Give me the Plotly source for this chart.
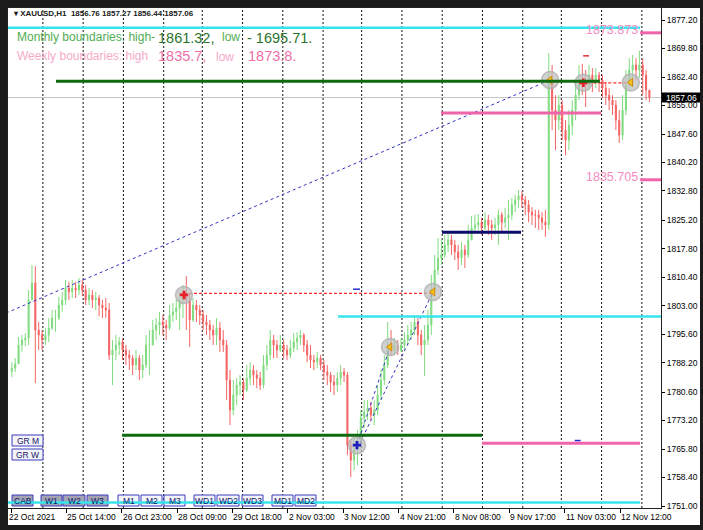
import plotly.graph_objects as go

# ---------------- data: XAUUSD H1 (drawn as 2-hour candles) ----------------
first_open = 1786.0
close = [
    1786.8, 1787.9, 1792.8, 1794.1, 1794.6, 1804.5, 1808.9, 1796.7, 1795.4, 1794.1,
    1795.4, 1797.2, 1799.8, 1799.8, 1803.2, 1804.5, 1807.6, 1806.6, 1807.6, 1807.1,
    1808.4, 1807.1, 1804.5, 1805.8, 1804.5, 1805.0, 1803.2, 1802.4, 1801.9, 1790.2,
    1791.5, 1792.8, 1793.6, 1791.5, 1790.2, 1789.4, 1787.6, 1789.4, 1786.3, 1787.6,
    1792.8, 1792.8, 1796.7, 1798.0, 1798.8, 1798.0, 1797.2, 1800.6, 1801.4, 1802.4,
    1804.5, 1805.8, 1804.5, 1799.3, 1803.2, 1801.9, 1800.6, 1798.8, 1798.0, 1796.7,
    1795.4, 1797.2, 1794.1, 1792.8, 1783.7, 1775.9, 1779.8, 1782.4, 1783.2, 1781.1,
    1784.2, 1786.3, 1785.0, 1784.2, 1782.4, 1787.6, 1790.2, 1794.1, 1792.8, 1791.5,
    1792.8, 1791.5, 1790.2, 1792.0, 1793.6, 1794.6, 1795.4, 1792.8, 1790.2, 1788.9,
    1788.4, 1789.4, 1787.6, 1785.8, 1785.0, 1783.2, 1782.4, 1784.2, 1785.8, 1785.0,
    1766.8, 1762.9, 1765.5, 1768.1, 1773.9, 1775.4, 1776.5, 1774.6, 1775.9, 1779.8,
    1783.7, 1787.6, 1792.8, 1791.5, 1792.8, 1791.5, 1792.8, 1794.1, 1795.4, 1796.7,
    1798.8, 1795.4, 1792.8, 1794.1, 1798.0, 1807.1, 1812.3, 1815.4, 1816.2, 1818.8,
    1820.1, 1818.8, 1817.0, 1815.4, 1817.5, 1816.2, 1820.1, 1823.2, 1824.0, 1824.7,
    1823.2, 1825.3, 1824.0, 1823.2, 1824.0, 1826.6, 1824.7, 1825.8, 1826.6, 1829.2,
    1830.5, 1831.5, 1830.5, 1829.2, 1827.3, 1826.6, 1826.6, 1825.8, 1824.7, 1824.0,
    1861.6, 1853.8, 1851.2, 1855.1, 1848.6, 1846.0, 1849.9, 1853.8, 1857.7, 1861.6,
    1861.1, 1860.3, 1862.9, 1861.6, 1862.9, 1861.6, 1859.5, 1857.7, 1856.4, 1855.1,
    1851.2, 1847.3, 1853.8, 1860.3, 1864.2, 1865.5, 1864.2, 1865.5, 1862.9, 1859.0,
    1857.06,
]
high = [
    1788.4, 1789.4, 1794.9, 1795.4, 1795.9, 1807.1, 1813.6, 1813.3, 1798.8, 1796.7,
    1797.2, 1799.8, 1801.9, 1801.9, 1805.3, 1806.6, 1809.7, 1809.2, 1809.7, 1809.2,
    1810.2, 1809.7, 1808.4, 1807.6, 1807.1, 1806.6, 1805.8, 1804.5, 1805.0, 1803.7,
    1794.1, 1795.4, 1794.9, 1794.6, 1792.8, 1791.5, 1790.2, 1791.5, 1790.2, 1790.2,
    1795.4, 1796.7, 1799.3, 1799.8, 1801.4, 1800.6, 1799.3, 1803.2, 1803.7, 1804.5,
    1806.6, 1808.4, 1810.7, 1806.3, 1805.0, 1804.5, 1803.2, 1801.9, 1800.6, 1799.3,
    1798.0, 1799.8, 1798.8, 1796.7, 1794.1, 1786.3, 1783.7, 1784.2, 1785.0, 1784.2,
    1787.6, 1788.4, 1787.6, 1786.3, 1785.8, 1790.2, 1792.8, 1796.7, 1795.4, 1794.1,
    1795.4, 1794.1, 1792.8, 1794.1, 1795.9, 1796.2, 1796.7, 1795.9, 1794.1, 1792.8,
    1790.2, 1791.0, 1790.2, 1788.9, 1787.6, 1785.8, 1785.0, 1785.8, 1787.6, 1786.8,
    1785.8, 1768.1, 1768.9, 1770.7, 1775.9, 1778.5, 1778.5, 1778.0, 1778.5, 1782.4,
    1786.3, 1790.2, 1798.8, 1796.7, 1794.6, 1794.1, 1794.6, 1796.2, 1798.0, 1798.8,
    1800.6, 1799.8, 1796.7, 1798.0, 1801.9, 1811.0, 1816.2, 1820.6, 1820.1, 1821.4,
    1821.9, 1821.4, 1820.1, 1818.8, 1819.6, 1818.8, 1824.0, 1826.3, 1826.6, 1826.8,
    1825.8, 1827.3, 1826.6, 1825.3, 1825.8, 1827.9, 1827.3, 1828.4, 1830.5, 1831.0,
    1831.8, 1833.1, 1832.8, 1831.5, 1830.5, 1828.6, 1827.9, 1827.9, 1827.3, 1827.9,
    1868.6, 1865.5, 1857.7, 1857.7, 1856.4, 1851.2, 1853.8, 1856.4, 1861.6, 1865.5,
    1865.8, 1864.2, 1865.5, 1864.7, 1864.7, 1863.7, 1862.9, 1861.1, 1859.5, 1857.7,
    1856.4, 1853.8, 1857.7, 1864.2, 1867.3, 1868.1, 1867.3, 1869.2, 1867.3, 1864.2,
    1859.0,
]
low = [
    1784.5, 1785.8, 1791.0, 1791.0, 1792.5, 1792.8, 1804.5, 1782.9, 1791.5, 1791.5,
    1792.8, 1793.6, 1796.7, 1796.2, 1799.3, 1801.4, 1803.2, 1804.5, 1805.0, 1805.0,
    1805.8, 1805.5, 1803.2, 1803.2, 1802.4, 1801.9, 1800.3, 1799.8, 1799.8, 1788.9,
    1782.4, 1788.9, 1790.2, 1788.9, 1787.6, 1786.3, 1785.0, 1786.3, 1783.7, 1784.2,
    1786.8, 1785.0, 1792.8, 1794.1, 1795.4, 1795.4, 1794.1, 1796.7, 1798.8, 1799.3,
    1796.7, 1799.8, 1796.7, 1792.3, 1798.8, 1798.8, 1798.0, 1796.7, 1795.4, 1794.1,
    1792.8, 1792.8, 1791.0, 1791.0, 1778.5, 1772.0, 1774.6, 1777.2, 1779.8, 1778.5,
    1780.6, 1782.4, 1782.4, 1781.6, 1781.1, 1781.6, 1786.3, 1788.9, 1789.4, 1789.4,
    1791.0, 1789.4, 1788.9, 1789.4, 1791.0, 1791.5, 1792.8, 1791.0, 1788.4, 1786.8,
    1786.3, 1786.8, 1786.3, 1783.7, 1782.4, 1780.6, 1779.8, 1780.6, 1782.4, 1783.2,
    1764.2, 1758.5, 1760.3, 1761.6, 1765.5, 1771.3, 1773.3, 1773.3, 1772.0, 1774.6,
    1778.5, 1782.4, 1786.8, 1790.2, 1790.2, 1790.2, 1791.0, 1791.5, 1792.8, 1794.1,
    1795.4, 1792.8, 1790.2, 1784.8, 1792.8, 1795.4, 1806.6, 1811.0, 1813.6, 1815.4,
    1817.0, 1816.2, 1814.9, 1812.3, 1813.6, 1812.8, 1815.4, 1820.1, 1822.2, 1822.7,
    1821.4, 1822.7, 1821.4, 1820.1, 1821.4, 1818.8, 1822.2, 1823.2, 1820.1, 1825.3,
    1827.3, 1828.4, 1828.4, 1826.6, 1824.7, 1824.0, 1823.2, 1822.7, 1822.7, 1820.9,
    1822.7, 1848.6, 1843.4, 1848.6, 1846.0, 1842.1, 1843.4, 1847.3, 1851.2, 1856.4,
    1857.7, 1854.6, 1859.0, 1858.5, 1859.5, 1858.5, 1857.0, 1855.1, 1853.8, 1852.5,
    1848.6, 1845.3, 1846.0, 1852.5, 1859.0, 1860.3, 1861.6, 1862.1, 1857.7, 1856.4,
    1855.9,
]

y_tick_values = [1751.0, 1758.4, 1765.8, 1773.2, 1780.6, 1788.2, 1795.6, 1803.0, 1810.4,
                 1817.8, 1825.2, 1832.8, 1840.2, 1847.6, 1855.0, 1862.4, 1869.8, 1877.2]
x_tick_bars = [0, 33, 66, 99, 132, 165, 198, 231, 264, 297, 330, 363]
x_tick_labels = ["22 Oct 2021", "25 Oct 14:00", "26 Oct 23:00", "28 Oct 09:00", "29 Oct 18:00",
                 "2 Nov 03:00", "3 Nov 12:00", "4 Nov 21:00", "8 Nov 08:00", "9 Nov 17:00",
                 "11 Nov 03:00", "12 Nov 12:00"]
day_separators = [19, 43, 67, 91, 114, 138, 162, 186, 209, 233, 257, 281, 305, 328, 352, 376]

# horizontal levels: price, from-bar, to-bar, kind
level_price = [1875.2, 1873.873, 1835.705, 1861.32, 1769.4, 1853.05, 1767.3, 1822.1, 1800.2, 1751.9]
level_from = [-3, 375, 375, 26.8, 66.2, 256.3, 280.7, 256.9, 194.9, -3]
level_to = [375, 392, 392, 351.0, 280.7, 351.7, 374.9, 304.0, 392, 374.9]
level_kind = ["cyan", "pink", "pink", "green", "green", "pink", "pink", "navy", "cyan", "cyan"]
level_text = ["", "1873.873", "1835.705", "", "", "", "", "", "", ""]

trend_bar = [-3.0, 321.3]
trend_price = [1801.1, 1861.62]
fib_a_bar = [206.2, 225.9]
fib_a_price = [1766.84, 1792.29]
fib_b_bar = [208.0, 251.5]
fib_b_price = [1767.36, 1806.57]
red_link1_bar = [103.1, 251.5]
red_link1_price = [1806.2, 1806.2]
red_link2_bar = [341.1, 369.4]
red_link2_price = [1860.9, 1860.9]

circ_bar = [103.1, 251.5, 225.9, 206.2, 321.3, 341.1, 369.4]
circ_price = [1805.8, 1806.6, 1792.3, 1766.8, 1861.6, 1860.9, 1861.0]
circ_kind = ["red", "arrow", "arrow", "blue", "arrow", "red", "arrow"]

tick_dash_bar0 = [203.9, 336.0, 341.0]
tick_dash_bar1 = [208.0, 339.5, 344.5]
tick_dash_price = [1807.3, 1768.0, 1867.9]
tick_dash_color = ["#2a2acc", "#2a2acc", "#e03030"]

# ---------------- geometry ----------------
W, H = 703, 530
L, R, T, B = 8, 661, 8, 508
X_RANGE = [-1.79, 387.4]
Y_RANGE = [1750.48, 1880.32]
FONT = "Liberation Sans"


def px(x):
    return (x - L) / (R - L)


def py(y):
    return (B - y) / (B - T)


def price_to_paper(p):
    return (p - Y_RANGE[0]) / (Y_RANGE[1] - Y_RANGE[0])


opens = [first_open] + close[:-1]
hi = [max(h, o, c) for h, o, c in zip(high, opens, close)]
lo = [min(l, o, c) for l, o, c in zip(low, opens, close)]
bars = [2 * i + 0.5 for i in range(len(close))]

fig = go.Figure()

fig.add_trace(go.Candlestick(
    x=bars, open=opens, high=hi, low=lo, close=close,
    increasing=dict(line=dict(color="#80dc80", width=1), fillcolor="#80dc80"),
    decreasing=dict(line=dict(color="#f46464", width=1), fillcolor="#f46464"),
    whiskerwidth=0, showlegend=False, hoverinfo="skip"))

# trend / link lines
fig.add_trace(go.Scatter(x=trend_bar, y=trend_price, mode="lines",
                         line=dict(color="#3434c4", width=1, dash="3px,3px"),
                         showlegend=False, hoverinfo="skip"))
for xs, ys in [(fib_a_bar, fib_a_price), (fib_b_bar, fib_b_price)]:
    fig.add_trace(go.Scatter(x=xs, y=ys, mode="lines",
                             line=dict(color="#3434c4", width=1, dash="3px,3px"),
                             showlegend=False, hoverinfo="skip"))
for xs, ys in [(red_link1_bar, red_link1_price), (red_link2_bar, red_link2_price)]:
    fig.add_trace(go.Scatter(x=xs, y=ys, mode="lines",
                             line=dict(color="#ff2a2a", width=1.3, dash="3px,2px"),
                             showlegend=False, hoverinfo="skip"))

# gray circles and inner symbols
fig.add_trace(go.Scatter(x=circ_bar, y=circ_price, mode="markers",
                         marker=dict(size=17, color="rgba(190,190,190,0.7)",
                                     line=dict(color="rgba(175,175,175,0.8)", width=1.5)),
                         showlegend=False, hoverinfo="skip"))
sym_style = {
    "red": dict(symbol="cross", size=7, color="#e8202a", line=dict(width=0)),
    "blue": dict(symbol="cross", size=7, color="#2020c0", line=dict(width=0)),
    "arrow": dict(symbol="triangle-left", size=7, color="#f2c21a", line=dict(color="#d08a10", width=1)),
}
for kind in ["red", "blue", "arrow"]:
    xs = [b for b, k in zip(circ_bar, circ_kind) if k == kind]
    ys = [p for p, k in zip(circ_price, circ_kind) if k == kind]
    fig.add_trace(go.Scatter(x=xs, y=ys, mode="markers", marker=sym_style[kind],
                             showlegend=False, hoverinfo="skip"))

shapes = []
# white chart panel over dark frame
shapes.append(dict(type="rect", xref="paper", yref="paper", x0=px(8), x1=px(700),
                   y0=py(8), y1=py(525), fillcolor="white", line=dict(width=0), layer="below"))
# day separators
for s in day_separators:
    shapes.append(dict(type="line", xref="x", yref="paper", x0=s, x1=s, y0=0, y1=1,
                       line=dict(color="#111111", width=1, dash="2px,2px"), layer="below"))
# bid line
shapes.append(dict(type="line", xref="paper", yref="y", x0=0, x1=1, y0=close[-1], y1=close[-1],
                   line=dict(color="#c4c4c4", width=1), layer="below"))

# buttons
btn_labels = ["CAB", "W1", "W2", "W3", "M1", "M2", "M3", "WD1", "WD2", "WD3", "MD1", "MD2"]
btn_x0 = [12, 41, 63, 87, 118, 141, 164, 194, 217, 242, 272, 295]
btn_x1 = [33, 62, 85, 108, 139, 162, 185, 215, 239, 263, 293, 316]
btn_pressed = [True, True, True, True] + [False] * 8
for x0, x1, pr in zip(btn_x0, btn_x1, btn_pressed):
    shapes.append(dict(type="rect", xref="paper", yref="paper", x0=px(x0), x1=px(x1),
                       y0=py(506), y1=py(495), fillcolor="#a3a3b1" if pr else "#f4f4f8",
                       line=dict(color="#3a3ac0", width=1), layer="above"))
for (y0, y1) in [(435, 446), (449, 460)]:
    shapes.append(dict(type="rect", xref="paper", yref="paper", x0=px(12), x1=px(43),
                       y0=py(y1), y1=py(y0), fillcolor="#f4f4f8",
                       line=dict(color="#3a3ac0", width=1), layer="above"))

level_style = {
    "cyan": dict(color="#36e4ee", width=2.5),
    "pink": dict(color="#f064aa", width=3),
    "green": dict(color="#0f6a0f", width=3),
    "navy": dict(color="#0c0c6a", width=3),
}
for p, a, b, k in zip(level_price, level_from, level_to, level_kind):
    shapes.append(dict(type="line", xref="x", yref="y", x0=a, x1=b, y0=p, y1=p,
                       line=level_style[k], layer="above"))
for a, b, p, c in zip(tick_dash_bar0, tick_dash_bar1, tick_dash_price, tick_dash_color):
    shapes.append(dict(type="line", xref="x", yref="y", x0=a, x1=b, y0=p, y1=p,
                       line=dict(color=c, width=1.5), layer="above"))

# last price box on the axis
shapes.append(dict(type="rect", xref="paper", yref="paper", x0=px(662), x1=px(700),
                   y0=price_to_paper(close[-1]) - 5 / (B - T), y1=price_to_paper(close[-1]) + 5 / (B - T),
                   fillcolor="black", line=dict(width=0), layer="above"))

ann = []
# x labels
for i, (b, t) in enumerate(zip(x_tick_bars, x_tick_labels)):
    ann.append(dict(x=b, y=py(516.5), xref="x", yref="paper", text=t, showarrow=False,
                    xanchor="left", yanchor="middle", xshift=-4 if i == 0 else -1,
                    font=dict(family=FONT, size=8.5, color="black")))
# last price label
ann.append(dict(x=px(681), y=price_to_paper(close[-1]), xref="paper", yref="paper",
                text=f"{close[-1]:.2f}", showarrow=False, xanchor="center", yanchor="middle",
                font=dict(family=FONT, size=8.5, color="white")))
# header
ann.append(dict(x=px(11), y=py(13), xref="paper", yref="paper",
                text="<b>▾ XAUUSD,H1  1856.76 1857.27 1856.44 1857.06</b>", showarrow=False,
                xanchor="left", yanchor="middle", font=dict(family=FONT, size=8, color="#202020")))
# info text
info = [
    ("Monthly boundaries: high-", 15, 37, 12, "#52ad52"),
    ("1861.32,", 156, 38, 14.5, "#2b742b"),
    ("low", 220, 37, 12, "#52ad52"),
    ("- 1695.71.", 245, 38, 14.5, "#2b742b"),
    ("Weekly boundaries: high", 15, 56, 12, "#f6aac9"),
    ("1835.7,", 156, 56, 14.5, "#ee6fa8"),
    ("low", 214, 57, 12, "#f6aac9"),
    ("1873.8.", 246, 56, 14.5, "#ee6fa8"),
]
for t, x, y, s, c in info:
    ann.append(dict(x=px(x), y=py(y), xref="paper", yref="paper", text=t, showarrow=False,
                    xanchor="left", yanchor="middle", font=dict(family=FONT, size=s, color=c)))
# level labels
for p, b, t in zip(level_price, level_from, level_text):
    if t:
        ann.append(dict(x=b, y=p, xref="x", yref="y", text=t, showarrow=False,
                        xanchor="right", yanchor="middle", yshift=3,
                        font=dict(family=FONT, size=12.5, color="#f48cbf")))
# button texts
for t, x0, x1 in zip(btn_labels, btn_x0, btn_x1):
    ann.append(dict(x=px((x0 + x1) / 2), y=py(500.5), xref="paper", yref="paper", text=t,
                    showarrow=False, xanchor="center", yanchor="middle",
                    font=dict(family=FONT, size=8.5, color="#15156a")))
for t, yc in [("GR M", 440.5), ("GR W", 454.5)]:
    ann.append(dict(x=px(27.5), y=py(yc), xref="paper", yref="paper", text=t,
                    showarrow=False, xanchor="center", yanchor="middle",
                    font=dict(family=FONT, size=8.5, color="#15156a")))

fig.update_layout(
    width=W, height=H,
    margin=dict(l=L, r=W - R, t=T, b=H - B, pad=0, autoexpand=False),
    paper_bgcolor="#1b1b1b", plot_bgcolor="white",
    shapes=shapes, annotations=ann, boxgap=0.55,
    showlegend=False, dragmode=False,
    xaxis=dict(range=X_RANGE, tickvals=x_tick_bars, showticklabels=False, ticks="outside",
               ticklen=4, tickcolor="black", showgrid=False, zeroline=False,
               showline=True, mirror=True, linecolor="#222222", linewidth=1,
               rangeslider=dict(visible=False), fixedrange=True),
    yaxis=dict(range=Y_RANGE, side="right", tickvals=y_tick_values,
               ticktext=[f"{v:.2f}" for v in y_tick_values], ticks="outside", ticklen=3,
               tickcolor="black", showgrid=False, zeroline=False, showline=True, mirror=True,
               linecolor="#222222", linewidth=1, fixedrange=True,
               tickfont=dict(family=FONT, size=8.5, color="black")),
)

fig.write_html("out.html", config={"displayModeBar": False},
               post_script="document.body.style.margin='0px';document.body.style.background='#1b1b1b';")
